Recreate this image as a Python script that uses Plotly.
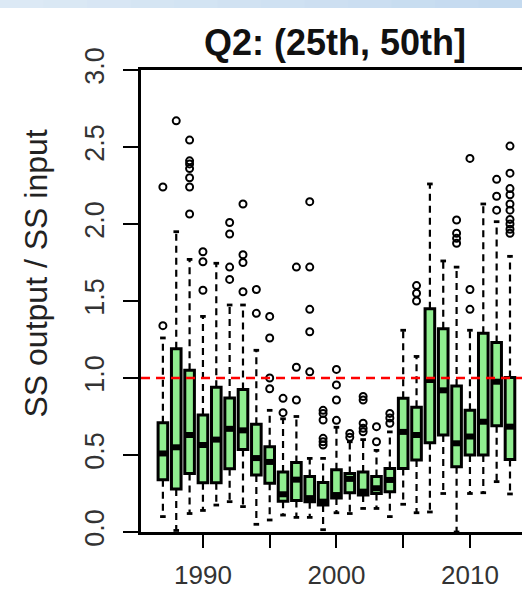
import plotly.graph_objects as go

years = list(range(1987, 2014))
lower = [0.10, 0.01, 0.12, 0.14, 0.175, 0.197, 0.165, 0.05, 0.078, 0.11,
         0.095, 0.095, 0.015, 0.125, 0.12, 0.153, 0.153, 0.10, 0.18, 0.125,
         0.13, 0.25, 0.0, 0.25, 0.255, 0.327, 0.247]
q1 = [0.34, 0.28, 0.38, 0.32, 0.32, 0.41, 0.535, 0.37, 0.316, 0.20,
      0.205, 0.197, 0.175, 0.22, 0.255, 0.24, 0.25, 0.262, 0.413, 0.467,
      0.58, 0.63, 0.424, 0.50, 0.50, 0.69, 0.47]
median = [0.51, 0.55, 0.63, 0.565, 0.60, 0.67, 0.66, 0.48, 0.455, 0.245,
          0.34, 0.22, 0.197, 0.24, 0.345, 0.262, 0.284, 0.338, 0.65, 0.63,
          0.987, 0.92, 0.576, 0.62, 0.716, 0.976, 0.684]
q3 = [0.71, 1.19, 1.05, 0.76, 0.94, 0.87, 0.926, 0.70, 0.554, 0.39,
      0.452, 0.36, 0.322, 0.405, 0.38, 0.39, 0.36, 0.413, 0.868, 0.81,
      1.45, 1.32, 0.948, 0.79, 1.29, 1.23, 1.004]
upper = [1.26, 1.95, 1.77, 1.40, 1.745, 1.474, 1.474, 1.18, 0.79, 0.735,
         0.75, 0.478, 0.478, 0.68, 0.586, 0.60, 0.53, 0.65, 1.31, 1.14,
         2.26, 1.76, 1.72, 1.31, 2.13, 2.015, 1.79]
outliers = {
    1987: [1.34, 2.24],
    1988: [2.67, 3.03],
    1989: [2.545, 2.41, 2.39, 2.36, 2.30, 2.24, 2.065],
    1990: [1.57, 1.755, 1.82],
    1992: [1.64, 1.72, 1.935, 2.01],
    1993: [1.56, 1.75, 1.80, 2.13],
    1994: [1.42, 1.575],
    1995: [0.93, 1.0, 1.26, 1.40],
    1996: [0.775, 0.868],
    1997: [0.857, 1.07, 1.72],
    1998: [1.04, 1.30, 1.446, 1.72, 2.145],
    1999: [0.565, 0.586, 0.608, 0.727, 0.77, 0.79],
    2000: [0.725, 0.857, 0.955, 1.056],
    2001: [0.615, 0.64],
    2002: [0.651, 0.673, 0.706, 0.857, 0.88],
    2003: [0.586, 0.684],
    2004: [0.706, 0.74, 0.77],
    2006: [1.50, 1.55, 1.60],
    2009: [1.875, 1.907, 1.94, 2.026],
    2010: [1.446, 1.575, 2.426],
    2012: [2.09, 2.18, 2.29],
    2013: [1.94, 1.966, 2.0, 2.03, 2.09, 2.13, 2.19, 2.23, 2.33, 2.506],
}
xtick_vals = [1990, 1995, 2000, 2005, 2010]
xtick_text = ["1990", "", "2000", "", "2010"]
ytick_vals = [0.0, 0.5, 1.0, 1.5, 2.0, 2.5, 3.0]
ytick_text = ["0.0", "0.5", "1.0", "1.5", "2.0", "2.5", "3.0"]
title = "Q2: (25th, 50th]"
ylabel = "SS output / SS input"
ref_level = 1.0

BOXW = 0.72
CAPW = 0.21
FONT = "Liberation Sans, Arial, Helvetica, sans-serif"

fig = go.Figure()

# whiskers (dashed)
wx, wy = [], []
for yr, lo, a, b, hi in zip(years, lower, q1, q3, upper):
    wx += [yr, yr, None, yr, yr, None]
    wy += [b, hi, None, a, lo, None]
fig.add_trace(go.Scatter(x=wx, y=wy, mode="lines",
                         line=dict(color="black", width=2.2, dash="7px,5px"),
                         hoverinfo="skip", showlegend=False))
# caps
cx, cy = [], []
for yr, lo, hi in zip(years, lower, upper):
    cx += [yr - CAPW, yr + CAPW, None, yr - CAPW, yr + CAPW, None]
    cy += [hi, hi, None, lo, lo, None]
fig.add_trace(go.Scatter(x=cx, y=cy, mode="lines",
                         line=dict(color="black", width=2.8),
                         hoverinfo="skip", showlegend=False))
# boxes
fig.add_trace(go.Bar(x=years, y=[b - a for a, b in zip(q1, q3)], base=q1,
                     width=BOXW,
                     marker=dict(color="#90EE90", line=dict(color="black", width=3)),
                     showlegend=False))
# medians
mx, my = [], []
for yr, m in zip(years, median):
    mx += [yr - BOXW / 2, yr + BOXW / 2, None]
    my += [m, m, None]
fig.add_trace(go.Scatter(x=mx, y=my, mode="lines",
                         line=dict(color="black", width=6),
                         hoverinfo="skip", showlegend=False))
# outliers
ox, oy = [], []
for yr, vals in outliers.items():
    for v in vals:
        ox.append(yr)
        oy.append(v)
fig.add_trace(go.Scatter(x=ox, y=oy, mode="markers",
                         marker=dict(symbol="circle-open", size=7, color="black",
                                     line=dict(width=2, color="black")),
                         showlegend=False))

# top band (light-blue gradient), in pixel-derived paper coords
PLOT_L, PLOT_W, PLOT_B, PLOT_H = 141, 381, 532, 462
n = 12
left_c = (220, 233, 245)
right_c = (196, 218, 239)
shapes = []
for i in range(n):
    t = i / (n - 1)
    c = tuple(int(round(l + (r - l) * t)) for l, r in zip(left_c, right_c))
    px0 = 522 * i / n
    px1 = 522 * (i + 1) / n + 1
    shapes.append(dict(type="rect", xref="paper", yref="paper",
                       x0=(px0 - PLOT_L) / PLOT_W, x1=(px1 - PLOT_L) / PLOT_W,
                       y0=(PLOT_B - 8) / PLOT_H, y1=(PLOT_B - 0) / PLOT_H,
                       line=dict(width=0), fillcolor="rgb(%d,%d,%d)" % c, layer="above"))
shapes.append(dict(type="line", xref="paper", x0=0, x1=1, yref="y", y0=ref_level, y1=ref_level,
                   line=dict(color="#ff0000", width=2.7, dash="9px,6px"), layer="above"))

fig.update_layout(
    width=522, height=589,
    margin=dict(l=141, r=0, t=70, b=57, autoexpand=False),
    paper_bgcolor="white", plot_bgcolor="white",
    barmode="overlay",
    shapes=shapes,
    font=dict(family=FONT, color="#333"),
    xaxis=dict(range=[1985.36, 2013.9], tickvals=xtick_vals, ticktext=xtick_text,
               showgrid=False, zeroline=False, showline=True, linecolor="black",
               linewidth=2.5, mirror=True, ticks="outside", ticklen=13, tickwidth=2,
               tickcolor="black", tickfont=dict(size=26, color="#333", family=FONT),
               ticklabelstandoff=5, automargin=False),
    yaxis=dict(range=[0, 3], tickvals=ytick_vals, ticktext=ytick_text,
               showgrid=False, zeroline=False, showline=True, linecolor="black",
               linewidth=2.5, ticks="outside", ticklen=15, tickwidth=2,
               tickcolor="black", tickangle=-90,
               tickfont=dict(size=27, color="#333", family=FONT),
               ticklabelstandoff=8, automargin=False),
    annotations=[
        dict(text="<b>%s</b>" % title, xref="paper", yref="paper",
             x=(335 - PLOT_L) / PLOT_W, y=(PLOT_B - 42) / PLOT_H, xanchor="center", yanchor="middle",
             showarrow=False, font=dict(size=36, color="#111", family=FONT)),
        dict(text=ylabel, xref="paper", yref="paper", textangle=-90,
             x=(35 - PLOT_L) / PLOT_W, y=(PLOT_B - 273.5) / PLOT_H, xanchor="center", yanchor="middle",
             showarrow=False, font=dict(size=32, color="#222", family=FONT)),
    ],
)

fig.write_html("out.html", config={"displayModeBar": False},
               post_script="document.body.style.margin='0';document.body.style.overflow='hidden';")
